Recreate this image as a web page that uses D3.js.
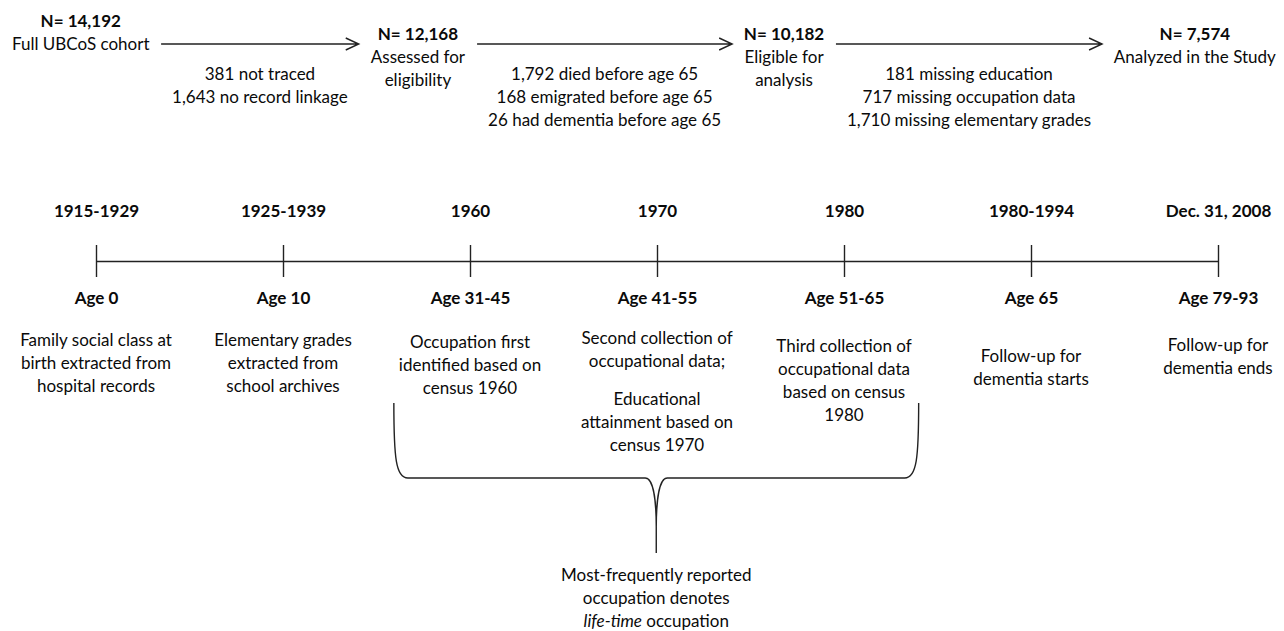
<!DOCTYPE html>
<html>
<head>
<meta charset="utf-8">
<script src="https://cdn.jsdelivr.net/npm/d3@7"></script>
<style>
  body { margin: 0; background: #fff; }
  text { font-family: "Lato", "Open Sans", sans-serif; fill: #0a0a0a; }
</style>
</head>
<body>
<div id="chart"></div>
<script>

// flow of the cohort (top row)
var flowCounts = ["N= 14,192", "N= 12,168", "N= 10,182", "N= 7,574"];
var flowLabels = [
	["Full UBCoS cohort"],
	["Assessed for", "eligibility"],
	["Eligible for", "analysis"],
	["Analyzed in the Study"]
];
var exclusions = [
	["381 not traced", "1,643 no record linkage"],
	["1,792 died before age 65", "168 emigrated before age 65", "26 had dementia before age 65"],
	["181 missing education", "717 missing occupation data", "1,710 missing elementary grades"]
];

// timeline
var periods = ["1915-1929", "1925-1939", "1960", "1970", "1980", "1980-1994", "Dec. 31, 2008"];
var ages = ["Age 0", "Age 10", "Age 31-45", "Age 41-55", "Age 51-65", "Age 65", "Age 79-93"];
// "" = paragraph break
var events = [
	["Family social class at", "birth extracted from", "hospital records"],
	["Elementary grades", "extracted from", "school archives"],
	["Occupation first", "identified based on", "census 1960"],
	["Second collection of", "occupational data;", "", "Educational", "attainment based on", "census 1970"],
	["Third collection of", "occupational data", "based on census", "1980"],
	["Follow-up for", "dementia starts"],
	["Follow-up for", "dementia ends"]
];
var braced = ["1960", "1970", "1980"];
var lifetimeNote = ["Most-frequently reported", "occupation denotes", "*life-time* occupation"];

var W = 1284, H = 631;
var fontSize = 17, lineH = 23, ink = "#222";
// small vertical nudges of the text blocks below the timeline (as in the original)
var descNudge = [0, 0, 2, -2, 6, 16, 5];

var svg = d3.select("#chart").append("svg")
	.attr("width", W)
	.attr("height", H);

// write lines of text, *word* turns italic
function writeLines(sel, lines, y0, gapH) {
	var y = y0;
	lines.forEach(function(line) {
		if (line === "") { y += gapH; return; }
		var t = sel.append("text")
			.attr("y", y)
			.attr("text-anchor", "middle")
			.attr("font-size", fontSize);
		line.split(/(\*[^*]+\*)/).forEach(function(part) {
			if (!part) return;
			var italic = part.charAt(0) === "*";
			t.append("tspan")
				.attr("font-style", italic ? "italic" : null)
				.text(italic ? part.slice(1, -1) : part);
		});
		y += lineH;
	});
}

// ---------- top row ----------
var flowY = 44;
var topRow = svg.append("g");

var nodes = topRow.selectAll(".node")
	.data(flowCounts)
	.enter().append("g")
	.attr("class", "node");

nodes.each(function(d, i) {
	var g = d3.select(this);
	var shift = i === 0 ? -13 : 0;
	g.append("text")
		.attr("y", 40 + shift)
		.attr("text-anchor", "middle")
		.attr("font-size", fontSize)
		.attr("font-weight", "bold")
		.text(d);
	writeLines(g, flowLabels[i], 63 + shift, 0);
});

var steps = topRow.selectAll(".step")
	.data(exclusions)
	.enter().append("g")
	.attr("class", "step");

steps.each(function(d) {
	writeLines(d3.select(this), d, 80, 0);
});

// chain node, arrow, node ... across the page with equal gaps
var arrowPad = 22, marginL = 12, marginR = 8;
var nodeW = nodes.nodes().map(function(n) { return n.getBBox().width; });
var stepW = steps.nodes().map(function(n) { return n.getBBox().width + arrowPad; });
var total = d3.sum(nodeW) + d3.sum(stepW);
var gap = (W - marginL - marginR - total) / (nodeW.length + stepW.length - 1);

var cursor = marginL, arrows = [];
nodeW.forEach(function(w, i) {
	d3.select(nodes.nodes()[i]).attr("transform", "translate(" + (cursor + w / 2) + ",0)");
	cursor += w + gap;
	if (i < stepW.length) {
		arrows.push([cursor, cursor + stepW[i]]);
		d3.select(steps.nodes()[i]).attr("transform", "translate(" + (cursor + stepW[i] / 2) + ",0)");
		cursor += stepW[i] + gap;
	}
});

topRow.selectAll(".arrow")
	.data(arrows)
	.enter().append("path")
	.attr("class", "arrow")
	.attr("fill", "none")
	.attr("stroke", ink)
	.attr("stroke-width", 1.4)
	.attr("d", function(a) {
		return "M" + a[0] + "," + flowY + "H" + a[1] +
			"M" + (a[1] - 13) + "," + (flowY - 6) + "L" + a[1] + "," + flowY + "L" + (a[1] - 13) + "," + (flowY + 6);
	});

// ---------- timeline ----------
var lineY = 261, tick = 16;
var x = d3.scalePoint().domain(periods).range([96, 1218]);

var axTop = svg.append("g")
	.attr("transform", "translate(0," + lineY + ")")
	.call(d3.axisTop(x).tickSize(tick).tickSizeOuter(0).tickPadding(28));

var axBottom = svg.append("g")
	.attr("transform", "translate(0," + lineY + ")")
	.call(d3.axisBottom(x).tickSize(tick).tickSizeOuter(0).tickPadding(15)
		.tickFormat(function(d, i) { return ages[i]; }));

axBottom.select(".domain").remove();
[axTop, axBottom].forEach(function(ax) {
	ax.attr("font-family", null).attr("font-size", null).style("color", ink);
	ax.selectAll("line").attr("stroke-width", 1.4);
	ax.select(".domain").attr("stroke-width", 1.4);
	ax.selectAll("text")
		.attr("font-size", fontSize)
		.attr("font-weight", "bold")
		.attr("fill", "#0a0a0a");
});

var desc = svg.selectAll(".desc")
	.data(periods)
	.enter().append("g")
	.attr("class", "desc")
	.attr("transform", function(d) { return "translate(" + x(d) + ",0)"; });

desc.each(function(d, i) {
	writeLines(d3.select(this), events[i], 346 + descNudge[i], 15);
});

// ---------- brace under the occupation columns ----------
var boxes = desc.filter(function(d) { return braced.indexOf(d) >= 0; }).nodes().map(function(n) {
	var b = n.getBBox();
	var tx = x(d3.select(n).datum());
	return [tx + b.x, tx + b.x + b.width];
});
var bL = d3.min(boxes, function(b) { return b[0]; }) - 5;
var bR = d3.max(boxes, function(b) { return b[1]; }) + 7;
var bMid = (bL + bR) / 2;
var bTop = 403, bBot = 478, bTip = 527, bEnd = 553;

var p = d3.path();
p.moveTo(bL, bTop);
p.bezierCurveTo(bL, bBot - 20, bL + 2, bBot, bL + 14, bBot);
p.lineTo(bMid - 11, bBot);
p.bezierCurveTo(bMid - 3, bBot, bMid, bBot + 22, bMid, bTip);
p.lineTo(bMid, bEnd);
p.moveTo(bMid, bTip);
p.bezierCurveTo(bMid, bBot + 22, bMid + 3, bBot, bMid + 11, bBot);
p.lineTo(bR - 14, bBot);
p.bezierCurveTo(bR - 2, bBot, bR, bBot - 20, bR, bTop);

svg.append("path")
	.attr("d", p.toString())
	.attr("fill", "none")
	.attr("stroke", ink)
	.attr("stroke-width", 1.4);

var note = svg.append("g").attr("transform", "translate(" + bMid + ",0)");
writeLines(note, lifetimeNote, 581, 0);

</script>
</body>
</html>
